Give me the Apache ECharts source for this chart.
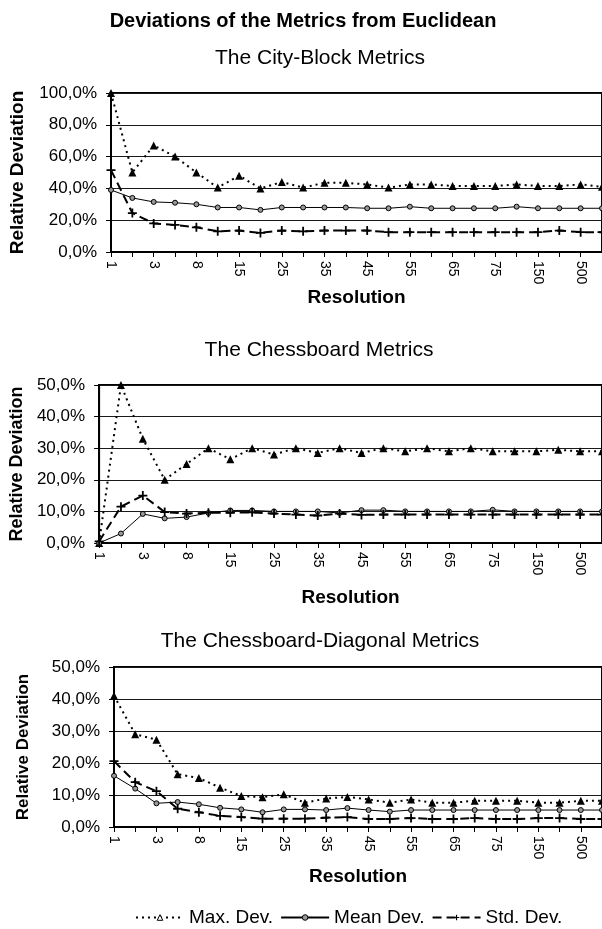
<!DOCTYPE html>
<html>
<head>
<meta charset="utf-8">
<script src="https://cdn.jsdelivr.net/npm/echarts@6/dist/echarts.min.js"></script>
<style>
  html, body { margin: 0; padding: 0; background: #fff; }
  #main { width: 602px; height: 929px; }
</style>
</head>
<body>
<div id="main"></div>
<script>
// resolution categories (every other one is labelled)
const resolution = ['1', '2', '3', '5', '8', '10', '15', '20', '25', '30', '35', '40', '45', '50', '55', '60', '65', '70', '75', '100', '150', '200', '500', '1000']

// The City-Block Metrics
const cityMax = [100, 50, 67, 60, 50, 40.5, 48, 40, 44, 40.5, 43.5, 43.5, 42.5, 40.5, 42.5, 42.5, 41.5, 41.5, 41.5, 42.5, 41.5, 41.5, 42.5, 41]
const cityMean = [39, 34, 31.5, 31, 30, 28, 28, 26.5, 28, 28, 28, 28, 27.5, 27.5, 28.5, 27.5, 27.5, 27.5, 27.5, 28.5, 27.5, 27.5, 27.5, 27.5]
const cityStd = [51.5, 24.5, 18, 17, 15.5, 13, 13.5, 12, 13.5, 13, 13.5, 13.5, 13.5, 12.5, 12.5, 12.5, 12.5, 12.5, 12.5, 12.5, 12.5, 13.5, 12.5, 12.5]

// The Chessboard Metrics
const chessMax = [0, 50, 33, 20, 25, 30, 26.5, 30, 28, 30, 28.5, 30, 28.5, 30, 29, 30, 29, 30, 29, 29, 29, 29.5, 29, 29]
const chessMean = [0, 3, 9.2, 7.8, 8.2, 9.5, 10.3, 10.3, 10, 10, 10, 9.5, 10.4, 10.4, 10, 10, 10, 10, 10.5, 10, 10, 10, 10, 10]
const chessStd = [0.5, 11.5, 15, 9.8, 9.3, 9.6, 9.6, 9.7, 9.3, 9, 8.7, 9.3, 8.9, 9, 9, 9, 9, 9, 9, 9, 9, 9, 9, 9]

// The Chessboard-Diagonal Metrics
const diagMax = [41, 29, 27.3, 16.5, 15.3, 12.3, 9.7, 9.3, 10.2, 7.6, 8.9, 9.4, 8.6, 7.6, 8.6, 7.6, 7.6, 8.2, 8.2, 8.2, 7.6, 7.6, 8.2, 8.2]
const diagMean = [16, 12, 7.4, 7.8, 7.1, 6, 5.5, 4.6, 5.5, 5.5, 5.3, 5.9, 5.3, 4.8, 5.3, 5.3, 5.3, 5.3, 5.3, 5.3, 5.3, 5.3, 5.3, 5.3]
const diagStd = [20.6, 14, 11.2, 5.7, 4.6, 3.5, 3.1, 2.6, 2.6, 2.6, 2.9, 3.1, 2.5, 2.5, 2.8, 2.5, 2.5, 2.8, 2.5, 2.5, 2.8, 2.8, 2.5, 2.5]

const yMax = [100, 50, 50]
const yStep = [20, 10, 10]

const font = '"Liberation Sans", Arial, sans-serif'
const plusSymbol = 'path://M4,0H6V10H4ZM0,4H10V6H0Z'

// plot boxes of the three panels
const grids = [
  { left: 108, top: 93, width: 496, height: 159 },
  { left: 96, top: 385, width: 507, height: 158 },
  { left: 114, top: 667, width: 490, height: 160 }
]
const yNameGap = [84, 70, 82]
const yNameSize = [19, 18, 17]
const xNameGap = [31, 45, 40]

const seriesData = [
  [cityMax, cityMean, cityStd],
  [chessMax, chessMean, chessStd],
  [diagMax, diagMean, diagStd]
]

const chart = echarts.init(document.getElementById('main'))

function pct(v) {
  return v.toFixed(1).replace('.', ',') + '%'
}

const xAxis = []
const yAxis = []
const series = []
grids.forEach((g, i) => {
  xAxis.push({
    type: 'category',
    gridIndex: i,
    data: resolution,
    boundaryGap: false,
    name: 'Resolution',
    nameLocation: 'middle',
    nameGap: xNameGap[i],
    nameTextStyle: { fontFamily: font, fontWeight: 'bold', fontSize: 19, color: '#000' },
    axisLine: { lineStyle: { color: '#000', width: 2 } },
    axisTick: { show: true, interval: 0, length: 5, lineStyle: { color: '#000' } },
    axisLabel: { interval: 1, rotate: -90, margin: 9, fontFamily: font, fontSize: 14, color: '#000' },
    splitLine: { show: false }
  })
  yAxis.push({
    type: 'value',
    gridIndex: i,
    min: 0,
    max: yMax[i],
    interval: yStep[i],
    name: 'Relative Deviation',
    nameLocation: 'middle',
    nameGap: yNameGap[i],
    nameTextStyle: { fontFamily: font, fontWeight: 'bold', fontSize: yNameSize[i], color: '#000' },
    axisLine: { show: true, lineStyle: { color: '#000', width: 2 } },
    axisTick: { show: true, length: 5, lineStyle: { color: '#000' } },
    axisLabel: { margin: 14, fontFamily: font, fontSize: 17, color: '#000', formatter: pct },
    splitLine: { lineStyle: { color: '#1a1a1a', width: 1 } }
  })
  const [mx, mean, std] = seriesData[i]
  series.push({
    name: 'Max. Dev.',
    type: 'line',
    xAxisIndex: i,
    yAxisIndex: i,
    data: mx,
    symbol: 'triangle',
    symbolSize: 8,
    itemStyle: { color: '#000' },
    lineStyle: { color: '#000', width: 2, type: [2, 4] },
    animation: false
  })
  series.push({
    name: 'Mean Dev.',
    type: 'line',
    xAxisIndex: i,
    yAxisIndex: i,
    data: mean,
    symbol: 'circle',
    symbolSize: 5,
    itemStyle: { color: '#999', borderColor: '#000', borderWidth: 1 },
    lineStyle: { color: '#000', width: 1 },
    animation: false
  })
  series.push({
    name: 'Std. Dev.',
    type: 'line',
    xAxisIndex: i,
    yAxisIndex: i,
    data: std,
    symbol: plusSymbol,
    symbolSize: 9,
    itemStyle: { color: '#000' },
    lineStyle: { color: '#000', width: 2, type: [9, 5] },
    animation: false
  })
})

const option = {
  backgroundColor: '#fff',
  title: [
    { text: 'Deviations of the Metrics from Euclidean', left: 298, textAlign: 'center', top: 6,
      textStyle: { fontFamily: font, fontWeight: 'bold', fontSize: 20, color: '#000' } },
    { text: 'The City-Block Metrics', left: 315, textAlign: 'center', top: 43,
      textStyle: { fontFamily: font, fontWeight: 'normal', fontSize: 21, color: '#000' } },
    { text: 'The Chessboard Metrics', left: 314, textAlign: 'center', top: 335,
      textStyle: { fontFamily: font, fontWeight: 'normal', fontSize: 21, color: '#000' } },
    { text: 'The Chessboard-Diagonal Metrics', left: 315, textAlign: 'center', top: 626,
      textStyle: { fontFamily: font, fontWeight: 'normal', fontSize: 21, color: '#000' } }
  ],
  legend: {
    data: [
      { name: 'Max. Dev.', itemStyle: { color: '#fff', borderColor: '#000', borderWidth: 1 } },
      { name: 'Mean Dev.', itemStyle: { color: '#999', borderColor: '#000', borderWidth: 1 } },
      { name: 'Std. Dev.' }
    ],
    left: 130,
    top: 903,
    itemWidth: 48,
    itemHeight: 7,
    itemGap: 7,
    textStyle: { fontFamily: font, fontSize: 19, color: '#000' }
  },
  grid: grids.map(g => Object.assign({ show: true, borderColor: '#000', borderWidth: 2, backgroundColor: 'transparent' }, g)),
  xAxis,
  yAxis,
  series
}
chart.setOption(option)
</script>
</body>
</html>
